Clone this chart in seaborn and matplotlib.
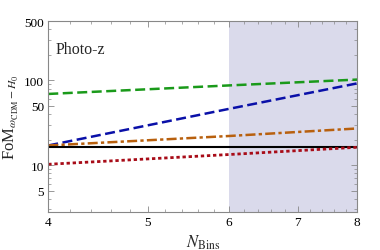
import numpy as np
import pandas as pd
import seaborn as sns
import matplotlib.pyplot as plt
from matplotlib.ticker import FixedLocator, NullFormatter

# values (log-log axes)
n_bins = [4, 6, 8]
fom_green = [69, 87, 102]
fom_blue = [17, 46, 92]
fom_orange = [17, 22, 27]
fom_black = [16.5, 16.5, 16.5]
fom_red = [10.2, 13.3, 16.2]

x_ticks = [4, 5, 6, 7, 8]
y_ticks = [5, 10, 50, 100, 500]

sns.set_theme(style='ticks')
plt.rcParams['font.family'] = ['Liberation Serif', 'DejaVu Serif']
plt.rcParams['mathtext.fontset'] = 'stix'

df = pd.DataFrame({'N': n_bins, 'green': fom_green, 'blue': fom_blue,
                   'orange': fom_orange, 'black': fom_black, 'red': fom_red})

fig, ax = plt.subplots(figsize=(3.8, 2.51), dpi=100)
ax.axvspan(6, 8, color='#dadaeb', zorder=0, lw=0)

styles = [('green', '#1a9a1a', (0, (4, 1.8)), 1.8),
          ('blue', '#0a10a8', (0, (4, 1.8)), 1.8),
          ('orange', '#b8600e', (0, (4, 1.3, 1.3, 1.3)), 1.8),
          ('black', 'black', '-', 1.5),
          ('red', '#a80c18', (0, (1.2, 1.0)), 2.0)]
for col, c, ls, lw in styles:
    sns.lineplot(data=df, x='N', y=col, ax=ax, color=c, lw=lw, linestyle=ls)

ax.set_xscale('log')
ax.set_yscale('log')
ax.set_xlim(4, 8)
ax.set_ylim(2.8, 500)
ax.xaxis.set_major_locator(FixedLocator(x_ticks))
ax.xaxis.set_minor_locator(FixedLocator(np.arange(4.2, 8, 0.2)))
ax.xaxis.set_minor_formatter(NullFormatter())
ax.set_xticklabels([str(t) for t in x_ticks])
ax.yaxis.set_major_locator(FixedLocator(y_ticks))
ax.set_yticklabels([str(t) for t in y_ticks])
ax.yaxis.set_minor_formatter(NullFormatter())

ax.tick_params(which='both', direction='in', top=True, right=True,
               colors='#888888', labelcolor='black', labelsize=9.5)
ax.tick_params(which='major', length=4, width=0.6, pad=3)
ax.tick_params(which='minor', length=2, width=0.5)
for s in ax.spines.values():
    s.set_color('#888888')
    s.set_linewidth(0.8)

ax.set_xlabel(r'$N_{\rm Bins}$', fontsize=12, labelpad=3)
ax.set_ylabel(r'FoM$_{\omega_{\rm CDM}-H_0}$', fontsize=12, labelpad=2)
ax.text(0.025, 0.835, 'Photo-z', transform=ax.transAxes, fontsize=11.5)

plt.subplots_adjust(left=0.127, right=0.94, top=0.912, bottom=0.152)
plt.savefig('out.png', dpi=100)
